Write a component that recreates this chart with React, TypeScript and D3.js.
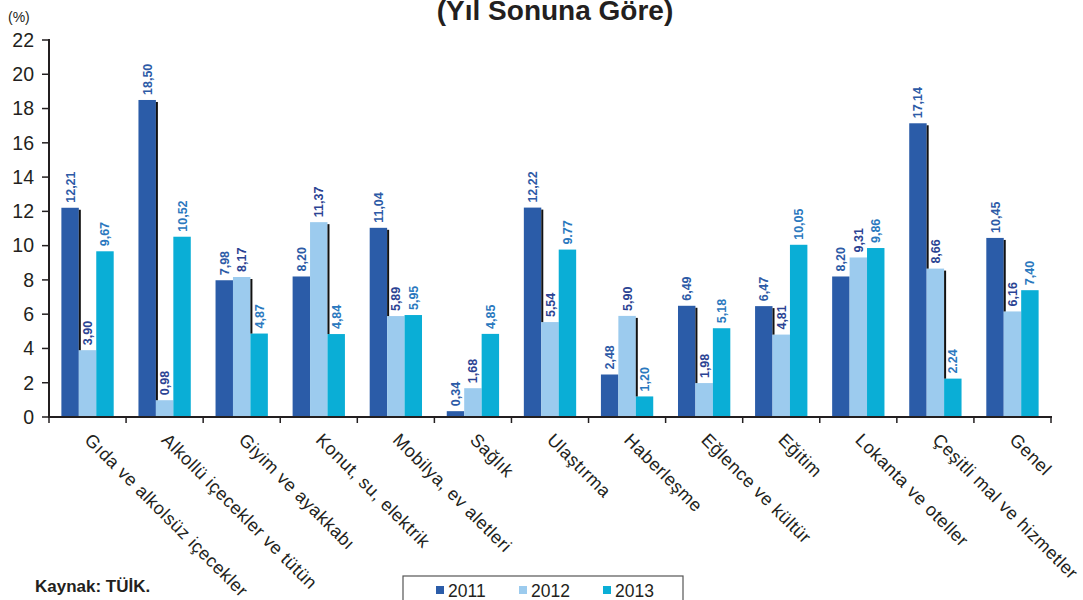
import React from "react";
import * as d3 from "d3";

const categories = [
  "Gıda ve alkolsüz içecekler",
  "Alkollü içecekler ve tütün",
  "Giyim ve ayakkabı",
  "Konut, su, elektrik",
  "Mobilya, ev aletleri",
  "Sağlık",
  "Ulaştırma",
  "Haberleşme",
  "Eğlence ve kültür",
  "Eğitim",
  "Lokanta ve oteller",
  "Çeşitli mal ve hizmetler",
  "Genel",
];

const years = ["2011", "2012", "2013"];

const values2011 = [12.21, 18.5, 7.98, 8.2, 11.04, 0.34, 12.22, 2.48, 6.49, 6.47, 8.2, 17.14, 10.45];
const values2012 = [3.9, 0.98, 8.17, 11.37, 5.89, 1.68, 5.54, 5.9, 1.98, 4.81, 9.31, 8.66, 6.16];
const values2013 = [9.67, 10.52, 4.87, 4.84, 5.95, 4.85, 9.77, 1.2, 5.18, 10.05, 9.86, 2.24, 7.4];

// labels as printed (a few use a dot)
const labels2011 = ["12,21", "18,50", "7,98", "8,20", "11,04", "0,34", "12,22", "2,48", "6,49", "6,47", "8,20", "17,14", "10,45"];
const labels2012 = ["3,90", "0,98", "8,17", "11,37", "5,89", "1,68", "5,54", "5,90", "1,98", "4,81", "9,31", "8,66", "6,16"];
const labels2013 = ["9,67", "10,52", "4,87", "4,84", "5,95", "4,85", "9.77", "1,20", "5,18", "10,05", "9,86", "2.24", "7,40"];

const yTicks = [0, 2, 4, 6, 8, 10, 12, 14, 16, 18, 20, 22];

const series = [values2011, values2012, values2013];
const seriesLabels = [labels2011, labels2012, labels2013];
const colors = ["#2b5ca8", "#9ccbee", "#0aaed6"];
const labelColors = ["#2c5aa6", "#2b4393", "#2a78be"];

const font = "'Liberation Sans', Arial, Helvetica, sans-serif";

export default function App() {
  const width = 1083;
  const height = 600;
  const left = 49;
  const right = 1051;
  const bottom = 417;
  const top = 40;

  const x = d3.scaleBand<string>().domain(categories).range([left, right]).padding(0);
  const inner = d3
    .scaleBand<string>()
    .domain(years)
    .range([0, x.bandwidth()])
    .paddingInner(0)
    .paddingOuter(0.71);
  const y = d3.scaleLinear().domain([0, 22]).range([bottom, top]);

  const boundaries = categories.map((c) => x(c) as number).concat([right]);

  return (
    <div style={{ position: "absolute", left: 0, top: 0 }}>
      <svg width={width} height={height} style={{ display: "block", background: "#fff" }} fontFamily={font}>
        {/* title, top cut off as in the source */}
        <text x={555} y={20} textAnchor="middle" fontSize={28} fontWeight="bold" fill="#231f20">
          (Yıl Sonuna Göre)
        </text>
        <text x={8} y={22} fontSize={14} fill="#231f20">
          (%)
        </text>

        {/* y axis */}
        {yTicks.map((t) => (
          <g key={t}>
            <line x1={left - 7} x2={left} y1={y(t)} y2={y(t)} stroke="#231f20" strokeWidth={1.5} />
            <text x={34} y={y(t)} dy="0.35em" textAnchor="end" fontSize={19.5} fill="#231f20">
              {t}
            </text>
          </g>
        ))}

        {/* bars */}
        {categories.map((c, i) => (
          <g key={c}>
            {series.map((vals, s) => (
              <rect
                key={s}
                x={(x(c) as number) + (inner(years[s]) as number)}
                y={y(vals[i])}
                width={inner.bandwidth()}
                height={bottom - y(vals[i])}
                fill={colors[s]}
              />
            ))}
            {series.slice(0, 2).map((vals, s) => {
              const next = series[s + 1][i];
              if (next >= vals[i]) return null;
              const bx = (x(c) as number) + (inner(years[s]) as number) + inner.bandwidth();
              return (
                <rect
                  key={"sh" + s}
                  x={bx}
                  y={y(vals[i]) + 2}
                  width={2}
                  height={y(next) - y(vals[i]) - 2}
                  fill="#111"
                />
              );
            })}
            {series.map((vals, s) => {
              const cx = (x(c) as number) + (inner(years[s]) as number) + inner.bandwidth() / 2 + 4.5;
              const ty = y(vals[i]) - 5;
              return (
                <text
                  key={"l" + s}
                  transform={`translate(${cx},${ty}) rotate(-90)`}
                  fontSize={12.5}
                  fontWeight="bold"
                  fill={labelColors[s]}
                >
                  {seriesLabels[s][i]}
                </text>
              );
            })}
          </g>
        ))}

        {/* axes lines */}
        <line x1={left} x2={left} y1={top - 1} y2={bottom + 1} stroke="#231f20" strokeWidth={2} />
        <line x1={left - 1} x2={right + 1} y1={bottom} y2={bottom} stroke="#231f20" strokeWidth={2} />
        {boundaries.map((b, i) => (
          <line key={i} x1={b} x2={b} y1={bottom} y2={bottom + 6} stroke="#231f20" strokeWidth={1.5} />
        ))}

        {/* category labels */}
        {categories.map((c) => {
          const cx = (x(c) as number) + x.bandwidth() / 2 - 4;
          return (
            <text
              key={"c" + c}
              transform={`translate(${cx},441) rotate(45)`}
              fontSize={18}
              letterSpacing={0.5}
              fill="#231f20"
            >
              {c}
            </text>
          );
        })}

        <text x={35} y={592} fontSize={17} fontWeight="bold" fill="#231f20">
          Kaynak: TÜİK.
        </text>

        {/* legend */}
        <rect x={403} y={576} width={280} height={30} fill="#fff" stroke="#555" strokeWidth={1.2} />
        {years.map((yr, s) => {
          const lx = [436, 519, 603][s];
          return (
            <g key={yr}>
              <rect x={lx} y={586} width={8} height={8} fill={colors[s]} />
              <text x={lx + 12} y={597} fontSize={17.5} fill="#231f20">
                {yr}
              </text>
            </g>
          );
        })}
      </svg>
    </div>
  );
}
